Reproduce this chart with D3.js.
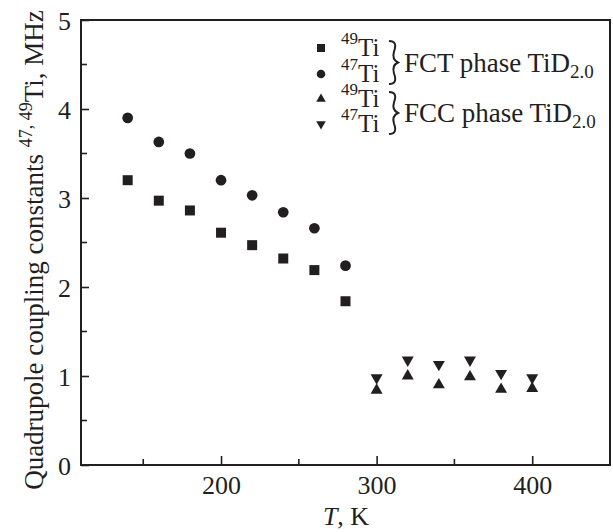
<!DOCTYPE html>
<html>
<head>
<meta charset="utf-8">
<script src="https://cdn.jsdelivr.net/npm/d3@7"></script>
<style>
  body { margin: 0; background: #fff; }
  text { font-family: "Liberation Serif", "Times New Roman", serif; fill: #231f20; }
</style>
</head>
<body>
<div id="chart"></div>
<script>
var svgWidth = 613;
var svgHeight = 532;

var margin = { top: 20, right: 3, bottom: 67, left: 81 };
var width = svgWidth - margin.left - margin.right;
var height = svgHeight - margin.top - margin.bottom;

// data
var tempFCT = [140, 160, 180, 200, 220, 240, 260, 280];
var fct49 = [3.20, 2.97, 2.86, 2.61, 2.47, 2.32, 2.19, 1.84];
var fct47 = [3.90, 3.63, 3.50, 3.20, 3.03, 2.84, 2.66, 2.24];

var tempFCC = [300, 320, 340, 360, 380, 400];
var fcc49 = [0.84, 1.00, 0.90, 0.99, 0.85, 0.86];
var fcc47 = [0.98, 1.18, 1.13, 1.18, 1.03, 0.98];

var xMajorTicks = [200, 300, 400];
var xMinorTicks = [150, 250, 350];
var yMajorTicks = [0, 1, 2, 3, 4, 5];
var yMinorTicks = [0.5, 1.5, 2.5, 3.5, 4.5];

var ink = "#231f20";

var svg = d3.select("#chart")
  .append("svg")
  .attr("width", svgWidth)
  .attr("height", svgHeight);

var chartGroup = svg.append("g")
  .attr("transform", `translate(${margin.left}, ${margin.top})`);

var xScale = d3.scaleLinear().domain([110, 450]).range([0, width]);
var yScale = d3.scaleLinear().domain([0, 5]).range([height, 0]);

// bottom axis, ticks pointing inward
var bottomAxis = d3.axisBottom(xScale)
  .tickValues(xMajorTicks)
  .tickSizeInner(-9)
  .tickSizeOuter(0)
  .tickPadding(11);

var xAxis = chartGroup.append("g")
  .attr("transform", `translate(0, ${height})`)
  .call(bottomAxis);

xAxis.append("g").selectAll("line")
  .data(xMinorTicks)
  .enter()
  .append("line")
  .attr("x1", d => xScale(d))
  .attr("x2", d => xScale(d))
  .attr("y1", 0)
  .attr("y2", -6);

var leftAxis = d3.axisLeft(yScale)
  .tickValues(yMajorTicks)
  .tickSizeInner(-8)
  .tickSizeOuter(0)
  .tickPadding(10)
  .tickFormat(d3.format("d"));

var yAxis = chartGroup.append("g").call(leftAxis);

yAxis.append("g").selectAll("line")
  .data(yMinorTicks)
  .enter()
  .append("line")
  .attr("x1", 0)
  .attr("x2", 6)
  .attr("y1", d => yScale(d))
  .attr("y2", d => yScale(d));

[xAxis, yAxis].forEach(function(ax) {
  ax.selectAll("line").attr("stroke", ink).attr("stroke-width", 1.6);
  ax.select(".domain").remove();
  ax.selectAll(".tick text")
    .attr("fill", ink)
    .style("font-size", "26px")
    .style("font-family", "Liberation Serif, serif");
});
yAxis.selectAll(".tick text").attr("dy", "0.36em");

// frame
chartGroup.append("rect")
  .attr("x", 0)
  .attr("y", 0)
  .attr("width", width)
  .attr("height", height)
  .attr("fill", "none")
  .attr("stroke", ink)
  .attr("stroke-width", 2);

// markers
var squareSym = d3.symbol().type(d3.symbolSquare).size(100);
var circleSym = d3.symbol().type(d3.symbolCircle).size(90);
var triSym = d3.symbol().type(d3.symbolTriangle).size(62);

function drawSeries(xs, ys, path, rotate) {
  chartGroup.append("g").selectAll("path")
    .data(ys)
    .enter()
    .append("path")
    .attr("d", path)
    .attr("fill", ink)
    .attr("transform", (d, i) => `translate(${xScale(xs[i])}, ${yScale(d)}) rotate(${rotate})`);
}

drawSeries(tempFCT, fct49, squareSym, 0);
drawSeries(tempFCT, fct47, circleSym, 0);
drawSeries(tempFCC, fcc49, triSym, 0);
drawSeries(tempFCC, fcc47, triSym, 180);

// axis titles
svg.append("text")
  .attr("x", 346)
  .attr("y", 525)
  .attr("text-anchor", "middle")
  .style("font-size", "26px")
  .html('<tspan font-style="italic">T</tspan>, K');

svg.append("text")
  .attr("transform", "translate(43, 250) rotate(-90)")
  .attr("text-anchor", "middle")
  .style("font-size", "27px")
  .html('Quadrupole coupling constants <tspan font-size="18px" dy="-11">47, 49</tspan><tspan dy="11">Ti, MHz</tspan>');

// legend
var legendRows = [
  { sym: squareSym, rot: 0, iso: "49", y: 56 },
  { sym: circleSym, rot: 0, iso: "47", y: 82 },
  { sym: triSym, rot: 0, iso: "49", y: 107 },
  { sym: triSym, rot: 180, iso: "47", y: 132 }
];
var legendPhases = ["FCT phase TiD", "FCC phase TiD"];

var legend = svg.append("g");

legend.selectAll("path")
  .data(legendRows)
  .enter()
  .append("path")
  .attr("d", d => d.sym())
  .attr("fill", ink)
  .attr("transform", d => `translate(321, ${d.y - 8}) rotate(${d.rot}) scale(0.8)`);

legend.selectAll("text.iso")
  .data(legendRows)
  .enter()
  .append("text")
  .attr("class", "iso")
  .attr("x", 358)
  .attr("y", d => d.y)
  .style("font-size", "25px")
  .html(d => `<tspan font-size="17px" dy="-12" text-anchor="end">${d.iso}</tspan><tspan x="358" dy="12">Ti</tspan>`);

function brace(x, y0, y1) {
  var m = (y0 + y1) / 2;
  var w = 9;
  return `M${x},${y0} Q${x + w},${y0} ${x + w * 0.55},${(y0 + m) / 2} Q${x + w * 0.3},${m - 3} ${x + w},${m}` +
    ` Q${x + w * 0.3},${m + 3} ${x + w * 0.55},${(m + y1) / 2} Q${x + w},${y1} ${x},${y1}`;
}

legendPhases.forEach(function(label, i) {
  var top = legendRows[i * 2].y - 15;
  var bot = legendRows[i * 2 + 1].y + 2;
  legend.append("path")
    .attr("d", brace(389, top, bot))
    .attr("fill", "none")
    .attr("stroke", ink)
    .attr("stroke-width", 2);
  legend.append("text")
    .attr("x", 404)
    .attr("y", (top + bot) / 2 + 9)
    .style("font-size", "27px")
    .html(`${label}<tspan font-size="19px" dy="6">2.0</tspan>`);
});
</script>
</body>
</html>
